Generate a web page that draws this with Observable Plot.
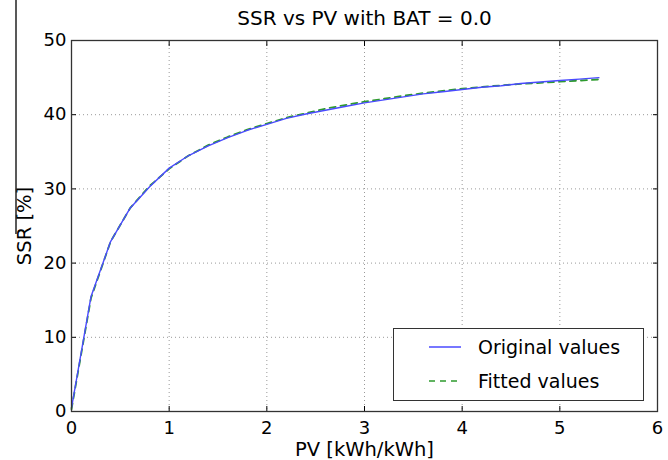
<!DOCTYPE html>
<html>
<head>
<meta charset="utf-8">
<script src="https://cdn.jsdelivr.net/npm/d3@7"></script>
<script src="https://cdn.jsdelivr.net/npm/@observablehq/plot@0.6"></script>
<style>
  body { margin: 0; background: #fff; font-family: "DejaVu Sans", sans-serif; }
  #wrap { position: relative; width: 668px; height: 460px; }
  #chart { position: absolute; left: 0; top: 0; }
  #edge { position: absolute; left: 14px; top: 0; z-index: 5; }
  #legend { position: absolute; left: 393px; top: 328px; width: 251px; height: 73px; z-index: 5;
            border: 1px solid #333; background: #fff; box-sizing: border-box; font-size: 19px; color: #000; }
  .row { position: absolute; left: 0; height: 26px; display: flex; align-items: center; }
  .row svg { margin-left: 35px; margin-right: 17px; }
</style>
</head>
<body>
<div id="wrap">
  <div id="chart"></div>
  <svg id="edge" width="4" height="234"><line x1="2" x2="2" y1="0" y2="234" stroke="#222" stroke-width="1.5"/></svg>
  <div id="legend">
    <div class="row" style="top:5px"><svg width="32" height="4"><line x1="0" x2="32" y1="2" y2="2" stroke="#4a4aff" stroke-width="1.5"/></svg><span>Original values</span></div>
    <div class="row" style="top:39px"><svg width="32" height="4"><line x1="0" x2="32" y1="2" y2="2" stroke="#2e9a2e" stroke-width="1.5" stroke-dasharray="6,5"/></svg><span>Fitted values</span></div>
  </div>
</div>
<script>
const pv = [0, 0.2, 0.4, 0.6, 0.8, 1.0, 1.2, 1.4, 1.6, 1.8, 2.0, 2.2, 2.4, 2.6, 2.8, 3.0, 3.2, 3.4, 3.6, 3.8, 4.0, 4.2, 4.4, 4.6, 4.8, 5.0, 5.2, 5.4];
const ssrOriginal = [0.5, 15.5, 22.9, 27.4, 30.3, 32.8, 34.5, 35.8, 36.9, 37.9, 38.7, 39.5, 40.1, 40.6, 41.1, 41.6, 42.0, 42.4, 42.8, 43.1, 43.4, 43.7, 43.9, 44.2, 44.4, 44.6, 44.8, 45.0];
const ssrFitted = [0.3, 15.3, 22.9, 27.4, 30.4, 32.7, 34.5, 35.9, 37.0, 38.0, 38.8, 39.6, 40.2, 40.8, 41.3, 41.75, 42.15, 42.55, 42.9, 43.2, 43.5, 43.75, 43.95, 44.15, 44.3, 44.45, 44.6, 44.75];
const xTicks = [0, 1, 2, 3, 4, 5, 6];
const yTicks = [0, 10, 20, 30, 40, 50];
const title = "SSR vs PV with BAT = 0.0";
const xLabel = "PV [kWh/kWh]";
const yLabel = "SSR [%]";

const orig = pv.map((x, i) => ({x, y: ssrOriginal[i]}));
const fit = pv.map((x, i) => ({x, y: ssrFitted[i]}));

const chart = Plot.plot({
  width: 668,
  height: 460,
  marginTop: 40,
  marginBottom: 49,
  marginLeft: 71,
  marginRight: 11,
  style: {fontFamily: "DejaVu Sans, sans-serif", fontSize: "18px", color: "#000", background: "#fff"},
  x: {domain: [0, 6], ticks: xTicks},
  y: {domain: [0, 50], ticks: yTicks},
  marks: [
    Plot.gridX(xTicks, {stroke: "#999", strokeOpacity: 1, strokeWidth: 1, strokeDasharray: "1,3"}),
    Plot.gridY(yTicks, {stroke: "#999", strokeOpacity: 1, strokeWidth: 1, strokeDasharray: "1,3"}),
    Plot.axisX(xTicks, {anchor: "bottom", tickSize: -5, tickPadding: 15, fontSize: 18, label: null}),
    Plot.axisX(xTicks, {anchor: "top", tickSize: -5, tickFormat: () => "", label: null}),
    Plot.axisY(yTicks, {anchor: "left", tickSize: -5, tickPadding: 10, fontSize: 18, label: null}),
    Plot.axisY(yTicks, {anchor: "right", tickSize: -5, tickFormat: () => "", label: null}),
    Plot.line(fit, {x: "x", y: "y", stroke: "#2e9a2e", strokeWidth: 1.8, strokeDasharray: "6,5"}),
    Plot.line(orig, {x: "x", y: "y", stroke: "#4a4aff", strokeWidth: 1.4}),
    Plot.frame({stroke: "#333", strokeWidth: 1.3}),
    Plot.text([title], {frameAnchor: "top", lineAnchor: "middle", dy: -22, fontSize: 20, text: d => d}),
    Plot.text([xLabel], {frameAnchor: "bottom", lineAnchor: "middle", dy: 38, fontSize: 19.5, text: d => d}),
    Plot.text([yLabel], {frameAnchor: "left", lineAnchor: "middle", textAnchor: "middle", dx: -47, rotate: -90, fontSize: 19.5, text: d => d})
  ]
});
document.getElementById("chart").appendChild(chart);
</script>
</body>
</html>
